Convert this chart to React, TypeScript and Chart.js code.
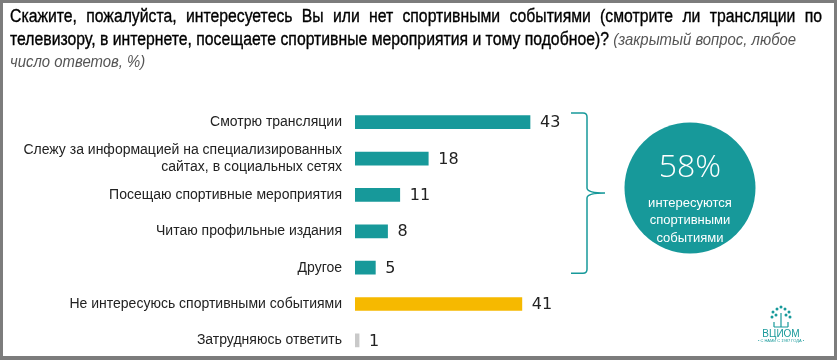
import React, { useEffect, useRef } from 'react';
import { Chart, registerables } from 'chart.js';

Chart.register(...registerables);

const categories: string[][] = [
  ['Смотрю трансляции'],
  ['Слежу за информацией на специализированных', 'сайтах, в социальных сетях'],
  ['Посещаю спортивные мероприятия'],
  ['Читаю профильные издания'],
  ['Другое'],
  ['Не интересуюсь спортивными событиями'],
  ['Затрудняюсь ответить'],
];
const values = [43, 18, 11, 8, 5, 41, 1];
const barColors = ['#17999a', '#17999a', '#17999a', '#17999a', '#17999a', '#f6b900', '#c9c9c9'];
const bracketFrom = 0;
const bracketTo = 4;
const totalInterested = '58%';
const circleLines = ['интересуются', 'спортивными', 'событиями'];

const TEAL = '#17999a';

const valueLabelPlugin = {
  id: 'valueLabels',
  afterDatasetsDraw(chart: any) {
    const ctx = chart.ctx;
    const meta = chart.getDatasetMeta(0);
    ctx.save();
    ctx.font = '16px "DejaVu Sans", sans-serif';
    ctx.fillStyle = '#222';
    ctx.textAlign = 'left';
    ctx.textBaseline = 'middle';
    meta.data.forEach((el: any, i: number) => {
      ctx.fillText(String(values[i]), el.x + 10, el.y + 1);
    });
    ctx.restore();
  },
};

const decorPlugin = {
  id: 'decor',
  afterDraw(chart: any) {
    const ctx = chart.ctx;
    const y = chart.scales.y;
    const step = Math.abs(y.getPixelForValue(1) - y.getPixelForValue(0));
    const top = y.getPixelForValue(bracketFrom) - step * 0.25;
    const bottom = y.getPixelForValue(bracketTo) + step * 0.15;
    const mid = (top + bottom) / 2;
    const xl = 571;
    const xv = 587;
    const xt = 605;
    ctx.save();
    ctx.strokeStyle = TEAL;
    ctx.lineWidth = 1.5;
    ctx.beginPath();
    ctx.moveTo(xl, top);
    ctx.lineTo(xv - 4, top);
    ctx.quadraticCurveTo(xv, top, xv, top + 4);
    ctx.lineTo(xv, mid - 5);
    ctx.quadraticCurveTo(xv, mid, xt, mid);
    ctx.quadraticCurveTo(xv, mid, xv, mid + 5);
    ctx.lineTo(xv, bottom - 4);
    ctx.quadraticCurveTo(xv, bottom, xv - 4, bottom);
    ctx.lineTo(xl, bottom);
    ctx.stroke();

    // circle
    const cx = 690;
    const cy = 188;
    ctx.fillStyle = TEAL;
    ctx.beginPath();
    ctx.arc(cx, cy, 65.5, 0, Math.PI * 2);
    ctx.fill();
    ctx.fillStyle = '#ffffff';
    ctx.textAlign = 'center';
    ctx.textBaseline = 'middle';
    ctx.font = '300 32px "Open Sans", sans-serif';
    ctx.fillText(totalInterested, cx, 168);
    ctx.font = '13px "Liberation Sans", sans-serif';
    circleLines.forEach((t, i) => ctx.fillText(t, cx, 203 + i * 17.5));

    // logo
    const lx = 781;
    ctx.strokeStyle = TEAL;
    ctx.fillStyle = TEAL;
    ctx.lineWidth = 1.2;
    ctx.beginPath();
    ctx.moveTo(lx, 313);
    ctx.lineTo(lx, 327);
    ctx.moveTo(lx - 7, 327);
    ctx.lineTo(lx + 7, 327);
    ctx.moveTo(lx - 7, 327);
    ctx.lineTo(lx - 7, 322);
    ctx.moveTo(lx + 7, 327);
    ctx.lineTo(lx + 7, 322);
    ctx.stroke();
    [[0, 307], [-4, 309], [4, 309], [-8, 312], [8, 312], [-5, 315], [5, 315], [-9, 317], [9, 317]].forEach(([dx, dy]) => {
      ctx.beginPath();
      ctx.arc(lx + dx, dy, 1.5, 0, Math.PI * 2);
      ctx.fill();
    });
    ctx.font = '10px "Liberation Sans", sans-serif';
    ctx.fillText('ВЦИОМ', lx, 334);
    ctx.font = '4px "Liberation Sans", sans-serif';
    ctx.fillText('• С НАМИ С 1987 ГОДА •', lx, 341);
    ctx.restore();
  },
};

export default function App() {
  const ref = useRef<HTMLCanvasElement>(null);
  useEffect(() => {
    document.body.style.margin = '0';
    const chart = new Chart(ref.current!, {
      type: 'bar',
      data: {
        labels: categories,
        datasets: [
          {
            data: values,
            backgroundColor: barColors,
            barThickness: 13,
            borderWidth: 0,
          },
        ],
      },
      options: {
        indexAxis: 'y',
        animation: false,
        responsive: false,
        layout: { padding: { top: 104, bottom: 0, right: 75, left: 0 } },
        plugins: { legend: { display: false }, tooltip: { enabled: false } },
        scales: {
          x: { display: false, min: 0, max: 100 },
          y: {
            grid: { display: false, drawTicks: false },
            border: { display: false },
            ticks: {
              padding: 13,
              color: '#222',
              font: { family: '"Liberation Sans", sans-serif', size: 14 },
            },
            afterFit(scale: any) {
              scale.width = 355;
            },
          },
        },
      },
      plugins: [valueLabelPlugin, decorPlugin],
    });
    return () => chart.destroy();
  }, []);

  const titleFont = '"Liberation Sans", Arial, sans-serif';
  const sx = 0.876;
  return (
    <div style={{ position: 'relative', width: 837, height: 360, background: '#fff', overflow: 'hidden' }}>
      <canvas ref={ref} width={837} height={380} style={{ position: 'absolute', left: 0, top: 0 }} />
      <div
        style={{
          position: 'absolute',
          left: 10,
          top: 5,
          width: 812 / sx,
          transform: `scaleX(${sx})`,
          transformOrigin: '0 0',
          fontFamily: titleFont,
          fontSize: 18,
          lineHeight: '22.5px',
          color: '#000',
        }}
      >
        <div style={{ textAlign: 'justify', textAlignLast: 'justify', whiteSpace: 'nowrap', WebkitTextStroke: '0.35px #000' } as any}>
          Скажите, пожалуйста, интересуетесь Вы или нет спортивными событиями (смотрите ли трансляции по
        </div>
        <div style={{ whiteSpace: 'nowrap' }}>
          <span style={{ WebkitTextStroke: '0.35px #000' } as any}>
            телевизору, в интернете, посещаете спортивные мероприятия и тому подобное)?
          </span>{' '}
          <span style={{ fontStyle: 'italic', color: '#555', fontSize: 17 }}>(закрытый вопрос, любое</span>
        </div>
        <div style={{ fontStyle: 'italic', color: '#555', fontSize: 17 }}>число ответов, %)</div>
      </div>
      <div
        style={{
          position: 'absolute',
          left: 0,
          top: 0,
          width: 837,
          height: 360,
          boxSizing: 'border-box',
          borderStyle: 'solid',
          borderColor: '#7c7c7c',
          borderWidth: '3px 3px 4px 3px',
          pointerEvents: 'none',
        }}
      />
    </div>
  );
}
